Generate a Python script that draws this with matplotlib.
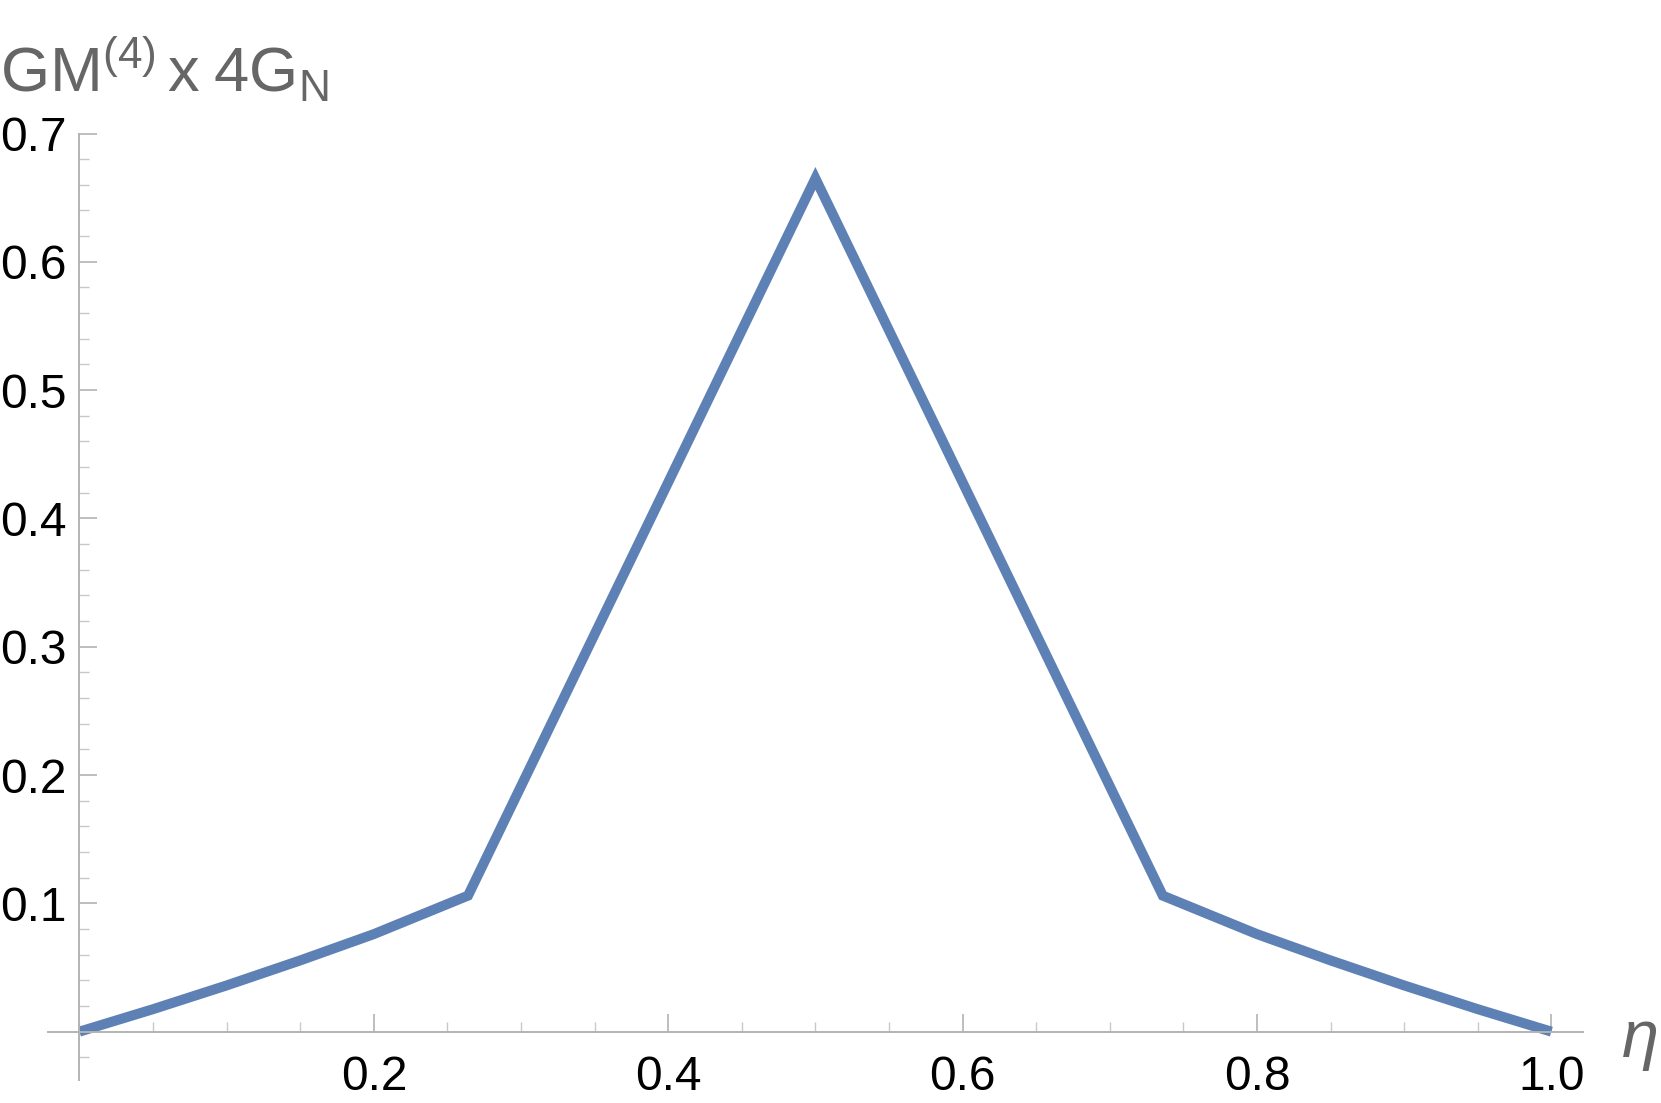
import matplotlib.pyplot as plt
from matplotlib.ticker import MultipleLocator, FixedLocator

plt.rcParams['font.family'] = ['Liberation Sans', 'DejaVu Sans']
plt.rcParams['mathtext.fontset'] = 'custom'
plt.rcParams['mathtext.rm'] = 'Liberation Sans'
plt.rcParams['mathtext.it'] = 'Liberation Sans:italic'

# values
eta = [0.0, 0.05, 0.1, 0.15, 0.2, 0.264, 0.5, 0.736, 0.8, 0.85, 0.9, 0.95, 1.0]
gm4 = [0.0, 0.0175, 0.036, 0.0555, 0.076, 0.106, 0.665, 0.106, 0.076, 0.0555, 0.036, 0.0175, 0.0]

x_major = [0.2, 0.4, 0.6, 0.8, 1.0]
x_labels = ['0.2', '0.4', '0.6', '0.8', '1.0']
y_major = [0.1, 0.2, 0.3, 0.4, 0.5, 0.6, 0.7]
y_labels = ['0.1', '0.2', '0.3', '0.4', '0.5', '0.6', '0.7']

W, H = 1661, 1103
fig = plt.figure(figsize=(W / 100, H / 100), dpi=100)
ax = fig.add_axes([47.8 / W, 1 - 1080 / H, (1583 - 47.8) / W, (1080 - 133.5) / H])

line_col = (0.368, 0.507, 0.710)
ax.plot(eta, gm4, color=line_col, lw=7.2, solid_joinstyle='miter', solid_capstyle='butt', clip_on=False)

ax.set_xlim(-0.0215, 1.0215)
ax.set_ylim(-0.0377, 0.7)

axis_col = '#b3b3b3'
for s in ['top', 'right']:
    ax.spines[s].set_visible(False)
ax.spines['left'].set_position(('data', 0))
ax.spines['bottom'].set_position(('data', 0))
for s in ['left', 'bottom']:
    ax.spines[s].set_color(axis_col)
    ax.spines[s].set_linewidth(1.4)

ax.xaxis.set_major_locator(FixedLocator(x_major))
ax.set_xticklabels(x_labels)
ax.yaxis.set_major_locator(FixedLocator(y_major))
ax.set_yticklabels(y_labels)
ax.xaxis.set_minor_locator(MultipleLocator(0.05))
ax.yaxis.set_minor_locator(MultipleLocator(0.02))

ax.tick_params(which='major', direction='in', length=13, width=1.2, color=axis_col,
               labelsize=34.5, labelcolor='black')
ax.tick_params(which='minor', direction='in', length=7.5, width=1.0, color='#c8c8c8')
ax.tick_params(axis='x', which='major', pad=17)
ax.tick_params(axis='y', which='major', pad=9)

fig.text(0 / W, 1 - 92 / H, r'$\mathrm{GM^{(4)}\,x\;4G_N}$', fontsize=45.5,
         color='#666666', ha='left', va='baseline')
fig.text(1640 / W, 1 - 1057 / H, 'η', fontsize=48, fontstyle='italic',
         color='#666666', ha='center', va='baseline')

fig.savefig('out.png', dpi=100)
